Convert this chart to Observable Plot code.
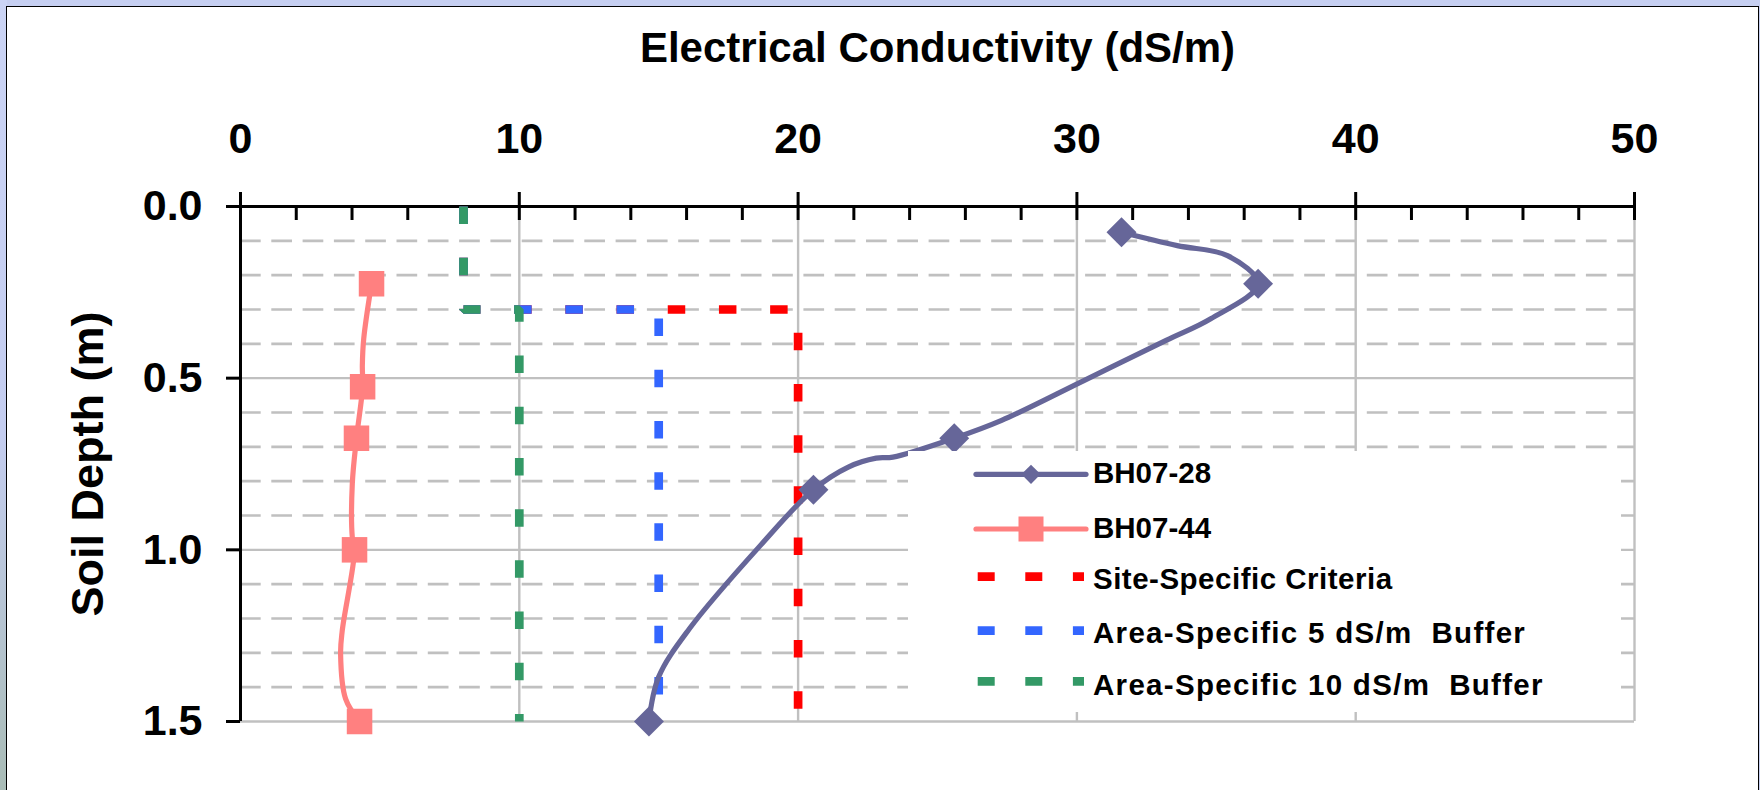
<!DOCTYPE html>
<html>
<head>
<meta charset="utf-8">
<script src="https://cdn.jsdelivr.net/npm/d3@7"></script>
<script src="https://cdn.jsdelivr.net/npm/@observablehq/plot@0.6"></script>
<style>
  html, body { margin: 0; padding: 0; background: #c6cff1; }
  #wrap { position: relative; width: 1760px; height: 790px; overflow: hidden; background: #c6cff1; }
  #strip { position: absolute; left: 0; top: 0; width: 7px; height: 790px;
           background: linear-gradient(to bottom, #cbd4f5 0%, #c4cdf0 55%, #a9bcb6 100%); }
  #panel { position: absolute; left: 6px; top: 6px; width: 1753px; height: 810px; background: #fff;
           border: 1.5px solid #000; box-sizing: border-box; }
  #chart { position: absolute; left: 0; top: 0; }
  #legend { position: absolute; left: 908px; top: 451px; }
  #legend text { white-space: pre; }
</style>
</head>
<body>
<div id="wrap">
  <div id="strip"></div>
  <div id="panel"></div>
  <div id="chart"></div>
  <div id="legend"></div>
</div>
<script>
// ---------------- data ----------------
// sampled points (drawn with markers)
const bh28Depth = [0.075, 0.225, 0.675, 0.825, 1.5];
const bh28EC    = [31.6, 36.5, 25.6, 20.55, 14.65];
const bh44Depth = [0.225, 0.525, 0.675, 1.0, 1.5];
const bh44EC    = [4.7, 4.38, 4.16, 4.09, 4.27];

// profile lines (vertices, markers included)
const bh28LineDepth = [0.075, 0.114, 0.143, 0.225, 0.327, 0.39, 0.507, 0.623, 0.675, 0.73, 0.733, 0.759, 0.825, 0.987, 1.23, 1.37, 1.5];
const bh28LineEC    = [31.6, 33.6, 35.4, 36.5, 34.8, 33.2, 30.25, 27.3, 25.6, 23.4, 22.8, 21.8, 20.55, 18.65, 16.1, 15.0, 14.65];
const bh44LineDepth = [0.225, 0.385, 0.463, 0.525, 0.675, 0.808, 0.963, 1.0, 1.235, 1.303, 1.434, 1.5];
const bh44LineEC    = [4.7, 4.42, 4.37, 4.38, 4.16, 4.01, 4.01, 4.09, 3.65, 3.59, 3.77, 4.27];

const criteriaDepth = [0, 0.3, 0.3, 1.5];
const siteEC     = [8, 8, 20, 20];
const buffer5EC  = [8, 8, 15, 15];
const buffer10EC = [8, 8, 10, 10];

const xTicks      = [0, 10, 20, 30, 40, 50];
const xMinorTicks = [2, 4, 6, 8, 12, 14, 16, 18, 22, 24, 26, 28, 32, 34, 36, 38, 42, 44, 46, 48];
const xGrid       = [10, 20, 30, 40, 50];
const yTicks      = [0, 0.5, 1.0, 1.5];
const yMajorGrid  = [0.5, 1.0, 1.5];
const yMinorGrid  = [0.1, 0.2, 0.3, 0.4, 0.6, 0.7, 0.8, 0.9, 1.1, 1.2, 1.3, 1.4];

const seriesNames  = ["BH07-28", "BH07-44", "Site-Specific Criteria", "Area-Specific 5 dS/m  Buffer", "Area-Specific 10 dS/m  Buffer"];
const seriesColors = ["#666699", "#ff8080", "#ff0000", "#3366ff", "#339966"];

const xTitle = "Electrical Conductivity (dS/m)";
const yTitle = "Soil Depth (m)";

// ---------------- tables ----------------
const toRows = (ecs, depths) => ecs.map((ec, i) => ({ec, depth: depths[i]}));
const bh28 = toRows(bh28EC, bh28Depth);
const bh44 = toRows(bh44EC, bh44Depth);
const bh28Line = toRows(bh28LineEC, bh28LineDepth);
const bh44Line = toRows(bh44LineEC, bh44LineDepth);
const site = toRows(siteEC, criteriaDepth);
const buf5 = toRows(buffer5EC, criteriaDepth);
const buf10 = toRows(buffer10EC, criteriaDepth);

// ---------------- layout ----------------
const W = 1760, H = 790;
const mTop = 206, mBottom = 69, mLeft = 240, mRight = 126;
const frameH = H - mTop - mBottom;
const FONT = "'Liberation Sans', Arial, Helvetica, sans-serif";
const GRID = "#c0c0c0";
const dash = "17.5,33.7";
const LINE_W = 5.2;

const chart = Plot.plot({
  width: W,
  height: H,
  marginTop: mTop,
  marginBottom: mBottom,
  marginLeft: mLeft,
  marginRight: mRight,
  style: {background: "transparent", fontFamily: FONT, fontWeight: "bold", color: "#000", overflow: "visible"},
  x: {domain: [0, 50], label: null},
  y: {domain: [0, 1.5], reverse: true, label: null},
  marks: [
    // gridlines
    Plot.ruleY(yMinorGrid, {stroke: GRID, strokeWidth: 2.7, strokeDasharray: "20.7,10.6"}),
    Plot.ruleY(yMajorGrid, {stroke: GRID, strokeWidth: 2.4}),
    Plot.ruleX(xGrid, {stroke: GRID, strokeWidth: 2.4}),
    // axes lines and ticks
    Plot.ruleX([0], {stroke: "#000", strokeWidth: 3, insetTop: -14}),
    Plot.ruleY([0], {stroke: "#000", strokeWidth: 3, insetLeft: -14}),
    Plot.ruleX(xMinorTicks, {stroke: "#000", strokeWidth: 3, insetBottom: frameH - 14}),
    Plot.ruleX(xTicks, {stroke: "#000", strokeWidth: 3, insetTop: -14, insetBottom: frameH - 14}),
    Plot.axisX({anchor: "top", ticks: xTicks, tickSize: 0, tickPadding: 54, fontSize: 43, label: null}),
    Plot.axisY({anchor: "left", ticks: yTicks, tickSize: 14, tickPadding: 24, strokeWidth: 3,
                fontSize: 43, tickFormat: d3.format(".1f"), label: null}),
    // criteria lines
    Plot.line(site,  {x: "ec", y: "depth", stroke: seriesColors[2], strokeWidth: 8.7, strokeDasharray: dash, strokeLinecap: "butt", strokeLinejoin: "miter"}),
    Plot.line(buf5,  {x: "ec", y: "depth", stroke: seriesColors[3], strokeWidth: 8.7, strokeDasharray: dash, strokeLinecap: "butt", strokeLinejoin: "miter"}),
    Plot.line(buf10, {x: "ec", y: "depth", stroke: seriesColors[4], strokeWidth: 8.7, strokeDasharray: dash, strokeLinecap: "butt", strokeLinejoin: "miter"}),
    // data series
    Plot.line(bh28Line, {x: "ec", y: "depth", stroke: seriesColors[0], strokeWidth: LINE_W, curve: "catmull-rom"}),
    Plot.dot(bh28, {x: "ec", y: "depth", symbol: "diamond2", r: 13.5, fill: seriesColors[0], stroke: "none"}),
    Plot.line(bh44Line, {x: "ec", y: "depth", stroke: seriesColors[1], strokeWidth: LINE_W, curve: "catmull-rom"}),
    Plot.dot(bh44, {x: "ec", y: "depth", symbol: "square", r: 14.4, fill: seriesColors[1], stroke: "none"}),
    // titles
    Plot.text([xTitle], {text: d => d, frameAnchor: "top", lineAnchor: "bottom", dy: -145, fontSize: 42, fontWeight: "bold"}),
    Plot.text([yTitle], {text: d => d, frameAnchor: "left", textAnchor: "middle", rotate: -90, dx: -152, fontSize: 45, fontWeight: "bold"})
  ]
});
document.getElementById("chart").appendChild(chart);

// ---------------- legend (inside plot area, white box) ----------------
const LW = 713, LH = 261;
const lg = d3.select("#legend").append("svg")
  .attr("width", LW).attr("height", LH)
  .style("display", "block").style("background", "#fff");
const rowY = [23.3, 78, 125.7, 179.7, 230.3];
const textY = [32, 86.7, 138, 192, 244];
seriesNames.forEach((name, i) => {
  const y = rowY[i];
  const g = lg.append("g");
  if (i < 2) {
    g.append("line").attr("x1", 68).attr("x2", 178).attr("y1", y).attr("y2", y)
      .attr("stroke", seriesColors[i]).attr("stroke-width", LINE_W).attr("stroke-linecap", "round");
    if (i === 0) {
      g.append("path").attr("d", d3.symbol(d3.symbolDiamond2, Math.pow(9.6 / 0.62625, 2))())
        .attr("transform", `translate(123,${y})`).attr("fill", seriesColors[i]);
    } else {
      g.append("rect").attr("x", 123 - 12.5).attr("y", y - 12.5).attr("width", 25).attr("height", 25)
        .attr("fill", seriesColors[i]);
    }
  } else {
    g.append("line").attr("x1", 69.7).attr("x2", 176).attr("y1", y).attr("y2", y)
      .attr("stroke", seriesColors[i]).attr("stroke-width", 8.7)
      .attr("stroke-dasharray", "17,30.6").attr("stroke-linecap", "butt");
  }
  g.append("text").attr("x", 185).attr("y", textY[i])
    .attr("font-family", FONT).attr("font-weight", "bold").attr("font-size", 29.5)
    .attr("letter-spacing", i < 2 ? 0 : (i === 2 ? 0.5 : 1.3))
    .attr("fill", "#000")
    .text(name);
});
</script>
</body>
</html>
